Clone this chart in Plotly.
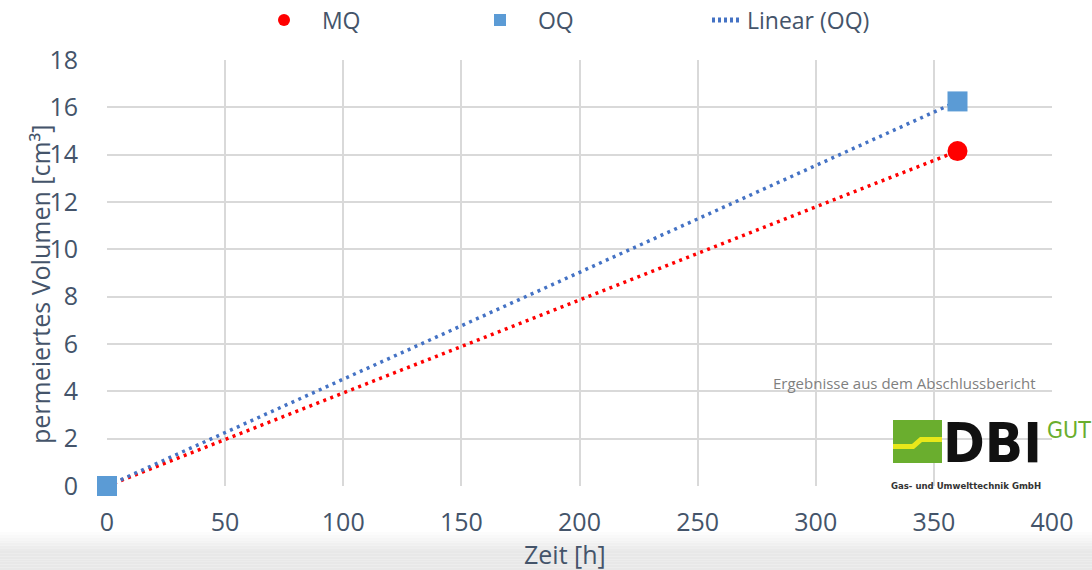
import plotly.graph_objects as go

# ---- data ----
time_h = [0, 360]
mq_volume = [0, 14.15]
oq_volume = [0, 16.25]
x_ticks = [0, 50, 100, 150, 200, 250, 300, 350, 400]
y_ticks = [0, 2, 4, 6, 8, 10, 12, 14, 16, 18]

W, H = 1092, 570
L, R, T, B = 107, 40, 60, 84
PW, PH = W - L - R, H - T - B

def px(x):
    return (x - L) / PW

def py(y):
    return (H - B - y) / PH

TXT = "#44546A"
FONT = "Open Sans"
NB = "\u00a0"
NARROW = "Liberation Sans Narrow, DejaVu Sans Condensed"

fig = go.Figure()

# Trendlines
fig.add_trace(go.Scatter(x=time_h, y=mq_volume, mode="lines", name="Linear (MQ)",
                         showlegend=False, cliponaxis=False,
                         line=dict(color="#FF0000", width=3.5, dash="3px,4.5px")))
fig.add_trace(go.Scatter(x=time_h, y=oq_volume, mode="lines", name="Linear (OQ)",
                         showlegend=False, cliponaxis=False,
                         line=dict(color="#4472C4", width=3.5, dash="3px,4.5px")))
# markers
fig.add_trace(go.Scatter(x=time_h, y=mq_volume, mode="markers", name=NB * 3 + "MQ",
                         cliponaxis=False,
                         marker=dict(symbol="circle", size=20, color="#FF0000")))
fig.add_trace(go.Scatter(x=time_h, y=oq_volume, mode="markers", name=NB * 3 + "OQ",
                         cliponaxis=False,
                         marker=dict(symbol="square", size=20, color="#5B9BD5")))
# legend-only entry for trendline (separate legend for free placement)
fig.add_trace(go.Scatter(x=[None], y=[None], mode="lines", name="Linear (OQ)",
                         legend="legend2",
                         line=dict(color="#4472C4", width=3, dash="3px,3px")))

shapes = []
# bottom gray gradient band
n = 14
y0b = 532
for i in range(n):
    ya = y0b + (H - y0b) * i / n
    yb = y0b + (H - y0b) * (i + 1) / n
    g = int(255 - (255 - 232) * min(1, (i + 1) / (n * 0.55)))
    shapes.append(dict(type="rect", xref="paper", yref="paper", x0=px(0), x1=px(W),
                       y0=py(yb), y1=py(ya), line=dict(width=0),
                       fillcolor=f"rgb({g},{g},{g})", layer="below"))

# DBI logo: green square with yellow stripe
gx0, gx1, gy0, gy1 = 893, 942, 420, 463
shapes.append(dict(type="rect", xref="paper", yref="paper", x0=px(gx0), x1=px(gx1),
                   y0=py(gy1), y1=py(gy0), line=dict(width=0), fillcolor="#6AAE2E",
                   layer="above"))

def path(pts):
    return "M " + " L ".join(f"{px(a):.5f},{py(b):.5f}" for a, b in pts) + " Z"

shapes.append(dict(type="path", xref="paper", yref="paper",
                   path=path([(gx0, 444), (912, 444), (920, 437), (gx1, 437),
                              (gx1, 442), (922, 442), (914, 449), (gx0, 449)]),
                   line=dict(width=0), fillcolor="#E8E81A", layer="above"))

annotations = [
    dict(text="permeiertes Volumen [cm³]", xref="paper", yref="paper",
         x=px(40), y=py(285), xanchor="center", yanchor="middle", textangle=-90,
         showarrow=False, font=dict(family=FONT, size=25, color=TXT)),
    dict(text="Zeit [h]", xref="paper", yref="paper",
         x=px(565), y=py(554), xanchor="center", yanchor="middle",
         showarrow=False, font=dict(family=FONT, size=25, color=TXT)),
    dict(text="Ergebnisse aus dem Abschlussbericht", xref="paper", yref="paper",
         x=px(1038), y=py(383), xanchor="right", yanchor="middle", showarrow=False,
         font=dict(family=FONT, size=15, color="#7F7F7F")),
    dict(text="<b>DBI</b>", xref="paper", yref="paper", x=px(941), y=py(442),
         xanchor="left", yanchor="middle", showarrow=False,
         font=dict(family=NARROW, size=56, color="#111111")),
    dict(text="GUT", xref="paper", yref="paper", x=px(1045), y=py(430),
         xanchor="left", yanchor="middle", showarrow=False,
         font=dict(family=NARROW, size=23, color="#6AAE2E")),
    dict(text="<b>Gas- und Umwelttechnik GmbH</b>", xref="paper", yref="paper",
         x=px(889), y=py(485), xanchor="left", yanchor="middle", showarrow=False,
         font=dict(family=NARROW, size=9.5, color="#333333")),
]

leg_common = dict(orientation="h", xref="container", yref="container",
                  xanchor="left", yanchor="middle",
                  font=dict(family=FONT, size=23, color=TXT),
                  bgcolor="rgba(0,0,0,0)", itemsizing="constant")

fig.update_layout(
    width=W, height=H,
    margin=dict(l=L, r=R, t=T, b=B, pad=0, autoexpand=False),
    paper_bgcolor="white", plot_bgcolor="white",
    font=dict(family=FONT, size=25, color=TXT),
    shapes=shapes, annotations=annotations,
    legend=dict(x=264 / W, y=1 - 20 / H, entrywidth=171, entrywidthmode="pixels",
                **leg_common),
    legend2=dict(x=707 / W, y=1 - 20 / H, **leg_common),
    xaxis=dict(range=[0, 400], tickvals=x_ticks, showgrid=True, gridcolor="#D9D9D9",
               gridwidth=2, zeroline=False, showline=False, ticks="", automargin=False,
               tickfont=dict(size=25, color=TXT), ticklabelstandoff=19),
    yaxis=dict(range=[0, 18], tickvals=y_ticks, showgrid=True, gridcolor="#D9D9D9",
               gridwidth=2, zeroline=False, showline=False, ticks="", automargin=False,
               tickfont=dict(size=25, color=TXT), ticklabelstandoff=28),
)

fig.write_html("out.html", config={"displayModeBar": False},
               post_script="document.body.style.margin='0';")
